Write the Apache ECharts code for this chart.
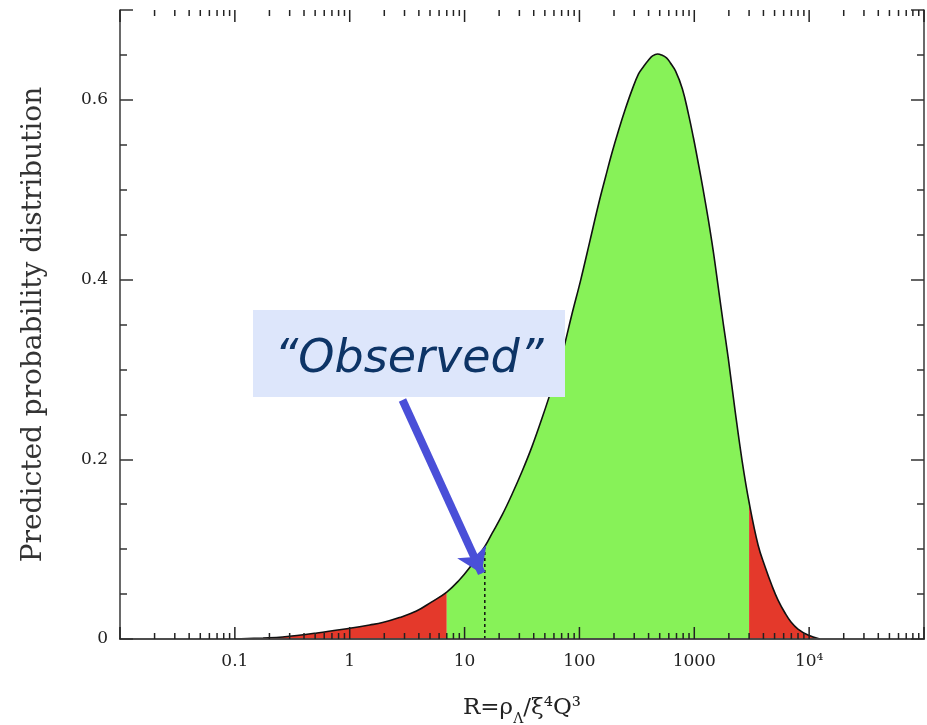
<!DOCTYPE html>
<html>
<head>
<meta charset="utf-8">
<script src="https://cdn.jsdelivr.net/npm/echarts@6/dist/echarts.min.js"></script>
<style>
html,body{margin:0;padding:0;background:#fff;}
#chart{width:927px;height:725px;}
</style>
</head>
<body>
<div id="chart"></div>
<script>
// ---- data ----
const curveR = [0.1, 0.176, 0.26, 0.52, 1, 1.49, 1.93, 2.71, 3.81, 5.14, 7, 9, 11, 15, 17.4, 21.2, 25.9, 31.7, 38.7, 47.2, 54.3, 63.7, 73.2, 85.9, 102.8, 123, 147, 169, 191, 220, 253, 285, 327, 362, 400, 433, 479, 518, 573, 620, 686, 788, 889, 983, 1086, 1199, 1325, 1465, 1619, 1788, 1977, 2270, 2612, 3000, 3597, 4139, 4758, 5360, 6166, 6950, 7995, 9770, 12400];
const curveP = [0, 0.0011, 0.0022, 0.0067, 0.012, 0.0156, 0.0183, 0.0239, 0.0311, 0.0411, 0.0522, 0.0656, 0.0789, 0.103, 0.1178, 0.1378, 0.1611, 0.1867, 0.2144, 0.2456, 0.2689, 0.2967, 0.3244, 0.3611, 0.4000, 0.4422, 0.4844, 0.5144, 0.5400, 0.5667, 0.5911, 0.6100, 0.6289, 0.6372, 0.6444, 0.6489, 0.6511, 0.6500, 0.6467, 0.6411, 0.6322, 0.6122, 0.5844, 0.5578, 0.5289, 0.4989, 0.4667, 0.4311, 0.3911, 0.3511, 0.3122, 0.2533, 0.1978, 0.1522, 0.1044, 0.0800, 0.0589, 0.0433, 0.0289, 0.0189, 0.0111, 0.0044, 0];
const lowCut = 7;        // left red / green boundary
const highCut = 3000;    // green / right red boundary
const observedR = 15;
const observedP = 0.103;
const xTickLabels = {"0.1": "0.1", "1": "1", "10": "10", "100": "100", "1000": "1000", "10000": "10\u2074"};
const xMajorTicks = [0.01, 0.1, 1, 10, 100, 1000, 10000, 100000];
const xMinorTicks = [0.02,0.03,0.04,0.05,0.06,0.07,0.08,0.09,0.2,0.3,0.4,0.5,0.6,0.7,0.8,0.9,2,3,4,5,6,7,8,9,20,30,40,50,60,70,80,90,200,300,400,500,600,700,800,900,2000,3000,4000,5000,6000,7000,8000,9000,20000,30000,40000,50000,60000,70000,80000,90000];
const annotationText = "\u201CObserved\u201D";

// ---- build ----
const pts = curveR.map((r, i) => [r, curveP[i]]);
const leftPts = pts.filter(p => p[0] <= lowCut);
const midPts = pts.filter(p => p[0] >= lowCut && p[0] <= highCut);
const rightPts = pts.filter(p => p[0] >= highCut);

const GREEN = '#87f258', RED = '#e4392b', AXIS = '#444';
const SMOOTH = 0.4;
const serif = '"DejaVu Serif", "Liberation Serif", serif';

function fillSeries(data, color) {
  return {
    type: 'line', data: data, smooth: SMOOTH, symbol: 'none',
    lineStyle: {width: 0}, areaStyle: {color: color, opacity: 1}, z: 2, silent: true
  };
}

function tickSeries(values, len) {
  return {
    type: 'custom', coordinateSystem: 'cartesian2d', z: 11, silent: true, clip: false,
    data: values.map(v => [v, 0]),
    renderItem: function (params, api) {
      const v = api.value(0);
      const b = api.coord([v, 0]);
      const t = api.coord([v, 0.7]);
      return {
        type: 'group', children: [
          {type: 'line', shape: {x1: b[0], y1: b[1], x2: b[0], y2: b[1] - len}, style: {stroke: '#222', lineWidth: 1.5}},
          {type: 'line', shape: {x1: t[0], y1: t[1], x2: t[0], y2: t[1] + len}, style: {stroke: '#222', lineWidth: 1.5}}
        ]
      };
    }
  };
}

const chart = echarts.init(document.getElementById('chart'), null, {renderer: 'canvas'});
const option = {
  animation: false,
  grid: {left: 120, right: 3, top: 10, bottom: 86, outerBoundsMode: 'none', containLabel: false},
  xAxis: [{
    type: 'log', logBase: 10, min: 0.01, max: 100000, z: 10,
    axisLine: {show: true, lineStyle: {color: AXIS, width: 1.6}},
    axisTick: {show: false},
    axisLabel: {
      color: '#222', fontFamily: serif, fontSize: 17, margin: 14,
      formatter: v => xTickLabels[String(Math.round(v * 1000) / 1000)] || ''
    },
    splitLine: {show: false},
    name: '{n|R=\u03C1}{s|\u039B}{n|/\u03BE\u2074Q\u00B3}',
    nameLocation: 'middle', nameGap: 58,
    nameTextStyle: {
      rich: {
        n: {fontFamily: serif, fontSize: 23, color: '#222'},
        s: {fontFamily: serif, fontSize: 14, color: '#222', verticalAlign: 'bottom', padding: [0, 0, -6, 0]}
      }
    }
  }, {
    type: 'log', logBase: 10, min: 0.01, max: 100000, position: 'top', z: 10,
    axisLine: {show: true, lineStyle: {color: AXIS, width: 1.6}},
    axisTick: {show: false},
    axisLabel: {show: false}, splitLine: {show: false}
  }],
  yAxis: [{
    type: 'value', min: 0, max: 0.7, interval: 0.2, z: 10,
    axisLine: {show: true, lineStyle: {color: AXIS, width: 1.6}},
    axisTick: {show: true, inside: true, length: 13, lineStyle: {color: '#333', width: 1.5}},
    minorTick: {show: true, splitNumber: 4, length: 7, lineStyle: {color: '#333', width: 1.5}},
    axisLabel: {
      color: '#222', fontFamily: serif, fontSize: 17, margin: 12, showMaxLabel: false,
      formatter: v => (Math.abs(v - 0.7) < 1e-6 ? '' : String(Math.round(v * 10) / 10))
    },
    splitLine: {show: false},
    name: 'Predicted probability distribution',
    nameLocation: 'middle', nameGap: 72, nameRotate: 90,
    nameTextStyle: {fontFamily: serif, fontSize: 28, color: '#333'}
  }, {
    type: 'value', min: 0, max: 0.7, interval: 0.2, position: 'right', z: 10,
    axisLine: {show: true, lineStyle: {color: AXIS, width: 1.6}},
    axisTick: {show: true, inside: true, length: 13, lineStyle: {color: '#333', width: 1.5}},
    minorTick: {show: true, splitNumber: 4, length: 7, lineStyle: {color: '#333', width: 1.5}},
    axisLabel: {show: false}, splitLine: {show: false}
  }],
  series: [
    fillSeries(leftPts, RED),
    fillSeries(midPts, GREEN),
    fillSeries(rightPts, RED),
    {
      type: 'line', data: pts, smooth: SMOOTH, symbol: 'none', z: 4, silent: true,
      lineStyle: {color: '#111', width: 1.6}
    },
    {
      type: 'line', data: [[observedR, 0], [observedR, observedP]], symbol: 'none', z: 5, silent: true,
      lineStyle: {color: '#111', width: 1.5, type: [3, 3]}
    },
    tickSeries(xMajorTicks, 12),
    tickSeries(xMinorTicks, 6),
    {
      type: 'lines', coordinateSystem: 'cartesian2d', z: 20, silent: true,
      symbol: ['none', 'arrow'], symbolSize: 24,
      lineStyle: {color: '#4a4fd8', width: 8, opacity: 1},
      data: [{coords: [[2.88, 0.266], [14.1, 0.073]]}]
    }
  ],
  graphic: [
    {
      type: 'rect', left: 253, top: 310, z: 30,
      shape: {width: 312, height: 87},
      style: {fill: '#dde6fb'}
    },
    {
      type: 'text', z: 31, x: 409, y: 360,
      style: {
        text: annotationText, fill: '#0d3466', fontSize: 46,
        fontFamily: '"DejaVu Sans", sans-serif', fontStyle: 'italic',
        align: 'center', verticalAlign: 'middle'
      }
    }
  ]
};
chart.setOption(option);
</script>
</body>
</html>
